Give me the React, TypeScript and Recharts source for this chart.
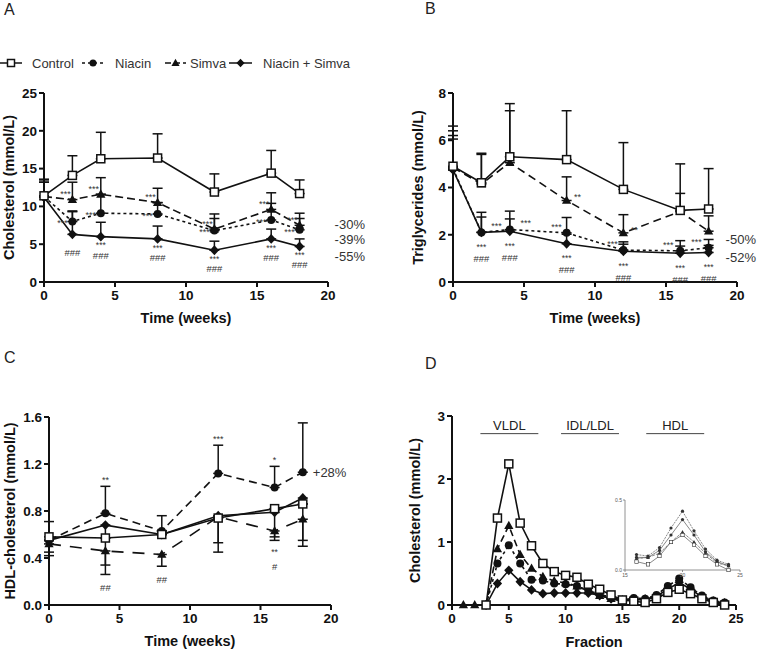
import React from 'react';
import { LineChart, Line, XAxis, YAxis, ErrorBar, LabelList, ReferenceLine } from 'recharts';

// ---------- A: total cholesterol (mmol/L) ----------
const weeks = [0, 2, 4, 8, 12, 16, 18];
const cholControl = [11.4, 14.1, 16.3, 16.4, 11.9, 14.4, 11.7];
const cholControlSem = [2.2, 2.6, 3.5, 3.2, 2.4, 3.0, 1.8];
const cholNiacin = [11.3, 8.0, 9.1, 9.0, 6.8, 8.2, 6.9];
const cholNiacinSem = [1.9, 1.4, 2.5, 1.5, 1.6, 2.2, 1.5];
const cholSimva = [11.3, 10.9, 11.6, 10.5, 7.0, 9.6, 7.5];
const cholSimvaSem = [2.2, 2.3, 2.2, 1.9, 2.0, 2.2, 1.6];
const cholCombo = [11.2, 6.3, 6.0, 5.7, 4.2, 5.7, 4.7];
const cholComboSem = [2.0, 3.0, 1.9, 1.7, 1.2, 1.3, 1.0];
const cholSimvaSig = ['', '***', '***', '***', '***', '***', '***'];
const cholNiacinSig = ['', '***', '***', '***', '***', '***', '***'];
const cholComboSig = ['', '', '***', '***', '***', '***', '***'];
const cholComboHash = ['', '###', '###', '###', '###', '###', '###'];
const cholPct = { simva: '-30%', niacin: '-39%', combo: '-55%' };

// ---------- B: triglycerides (mmol/L) ----------
const tgControl = [4.9, 4.2, 5.3, 5.18, 3.92, 3.03, 3.09];
const tgControlSem = [1.5, 1.25, 2.25, 2.07, 1.98, 1.97, 1.71];
const tgNiacin = [4.8, 2.1, 2.22, 2.08, 1.35, 1.32, 1.45];
const tgNiacinSem = [1.4, 0.85, 0.45, 0.65, 0.35, 0.43, 0.35];
const tgSimva = [4.85, 4.15, 5.05, 3.45, 2.08, 2.98, 2.15];
const tgSimvaSem = [1.75, 1.25, 2.2, 1.0, 0.77, 0.77, 0.65];
const tgCombo = [4.75, 2.1, 2.15, 1.62, 1.3, 1.22, 1.25];
const tgComboSem = [1.3, 0.65, 0.85, 0.4, 0.3, 0.3, 0.3];
const tgSimvaSig = ['', '', '', '**', '**', '', ''];
const tgNiacinSig = ['', '***', '***', '***', '***', '***', '***'];
const tgComboSig = ['', '***', '***', '***', '***', '***', '***'];
const tgComboHash = ['', '###', '###', '###', '###', '###', '###'];
const tgPct = { niacin: '-50%', combo: '-52%' };

// ---------- C: HDL-cholesterol (mmol/L) ----------
const hdlWeeks = [0, 4, 8, 12, 16, 18];
const hdlControl = [0.58, 0.57, 0.6, 0.74, 0.82, 0.86];
const hdlControlSem = [0.13, 0, 0.16, 0, 0, 0];
const hdlNiacin = [0.55, 0.78, 0.63, 1.12, 1.0, 1.13];
const hdlNiacinSem = [0, 0.23, 0, 0.24, 0.18, 0.42];
const hdlSimva = [0.52, 0.46, 0.43, 0.75, 0.63, 0.73];
const hdlSimvaSem = [0.1, 0.2, 0.1, 0.3, 0.08, 0.23];
const hdlCombo = [0.55, 0.68, 0.6, 0.76, 0.79, 0.91];
const hdlComboSem = [0.1, 0.34, 0, 0.23, 0.21, 0.36];
const hdlNiacinSig = ['', '**', '', '***', '*', ''];
const hdlSimvaSig = ['', '', '', '', '**', ''];
const hdlSimvaHash = ['', '##', '##', '', '#', ''];
const hdlPct = '+28%';

// ---------- D: FPLC cholesterol profile ----------
const fractions = [1, 2, 3, 4, 5, 6, 7, 8, 9, 10, 11, 12, 13, 14, 15, 16, 17, 18, 19, 20, 21, 22, 23, 24];
const fpControl = [null, null, 0, 1.38, 2.24, 1.3, 0.94, 0.66, 0.53, 0.47, 0.44, 0.33, 0.25, 0.16, 0.08, 0.06, 0.04, 0.1, 0.2, 0.25, 0.18, 0.1, 0.04, 0];
const fpNiacin = [null, null, 0, 0.66, 0.95, 0.66, 0.4, 0.39, 0.34, 0.33, 0.3, 0.23, 0.17, 0.12, 0.08, 0.11, 0.1, 0.16, 0.3, 0.42, 0.28, 0.15, 0.07, 0.04];
const fpSimva = [0, 0, 0, 0.89, 1.26, 0.8, 0.58, 0.45, 0.38, 0.35, 0.3, 0.22, 0.15, 0.1, 0.08, 0.08, 0.09, 0.12, 0.2, 0.27, 0.2, 0.12, 0.05, 0.03];
const fpCombo = [null, null, 0, 0.34, 0.55, 0.37, 0.24, 0.18, 0.19, 0.19, 0.19, 0.19, 0.15, 0.1, 0.06, 0.09, 0.09, 0.14, 0.25, 0.36, 0.25, 0.13, 0.06, 0.03];
const fpBands = [
  { name: 'VLDL', from: 2.5, to: 7.6 },
  { name: 'IDL/LDL', from: 9.6, to: 14.7 },
  { name: 'HDL', from: 17.1, to: 22.2 },
];
const fpBandLevel = 2.72;

const up = (e: number) => [0, e];
const down = (e: number) => [e, 0];
const last = weeks.length - 1;

const tableA = weeks.map((w, i) => ({
  week: w,
  control: cholControl[i], controlErr: up(cholControlSem[i]),
  niacin: cholNiacin[i], niacinErr: up(cholNiacinSem[i]),
  simva: cholSimva[i], simvaErr: up(cholSimvaSem[i]),
  combo: cholCombo[i], comboErr: up(cholComboSem[i]),
  simvaSig: cholSimvaSig[i], niacinSig: cholNiacinSig[i],
  comboSig: cholComboSig[i], comboHash: cholComboHash[i],
  simvaPct: i === last ? cholPct.simva : '',
  niacinPct: i === last ? cholPct.niacin : '',
  comboPct: i === last ? cholPct.combo : '',
}));

const tableB = weeks.map((w, i) => ({
  week: w,
  control: tgControl[i], controlErr: up(tgControlSem[i]),
  niacin: tgNiacin[i], niacinErr: up(tgNiacinSem[i]),
  simva: tgSimva[i], simvaErr: up(tgSimvaSem[i]),
  combo: tgCombo[i], comboErr: up(tgComboSem[i]),
  simvaSig: tgSimvaSig[i], niacinSig: tgNiacinSig[i],
  comboSig: tgComboSig[i], comboHash: tgComboHash[i],
  niacinPct: i === last ? tgPct.niacin : '',
  comboPct: i === last ? tgPct.combo : '',
}));

const tableC = hdlWeeks.map((w, i) => ({
  week: w,
  control: hdlControl[i], controlErr: up(hdlControlSem[i]),
  niacin: hdlNiacin[i], niacinErr: up(hdlNiacinSem[i]),
  simva: hdlSimva[i], simvaErr: down(hdlSimvaSem[i]),
  combo: hdlCombo[i], comboErr: down(hdlComboSem[i]),
  niacinTop: hdlNiacin[i] + hdlNiacinSem[i],
  simvaBottom: hdlSimva[i] - hdlSimvaSem[i],
  niacinSig: hdlNiacinSig[i],
  simvaSig: hdlSimvaSig[i],
  simvaHash: hdlSimvaHash[i],
  niacinPct: i === hdlWeeks.length - 1 ? hdlPct : '',
}));

const tableD = fractions.map((f, i) => ({
  fraction: f,
  control: fpControl[i], niacin: fpNiacin[i], simva: fpSimva[i], combo: fpCombo[i],
}));
const tableInset = tableD.filter((r) => r.fraction >= 16);

// ---------- drawing helpers ----------
const FONT = '"Liberation Sans", Arial, Helvetica, sans-serif';
const INK = '#111';
type Kind = 'square' | 'circle' | 'triangle' | 'diamond';

function drawMarker(kind: Kind, cx: number, cy: number, s: number, sw: number, key: string, color = INK) {
  const h = s / 2;
  if (kind === 'square')
    return <rect key={key} x={cx - h} y={cy - h} width={s} height={s} fill="#fff" stroke={color} strokeWidth={sw} />;
  if (kind === 'circle') return <circle key={key} cx={cx} cy={cy} r={h} fill={color} />;
  if (kind === 'triangle')
    return (
      <polygon key={key} fill={color}
        points={`${cx},${cy - s * 0.62} ${cx - s * 0.58},${cy + s * 0.42} ${cx + s * 0.58},${cy + s * 0.42}`} />
    );
  return (
    <polygon key={key} fill={color}
      points={`${cx},${cy - s * 0.62} ${cx + s * 0.58},${cy} ${cx},${cy + s * 0.62} ${cx - s * 0.58},${cy}`} />
  );
}

const dotOf = (kind: Kind, s: number, sw = 1.5, color = INK) => (p: any) => {
  const k = `${kind}-${p.index}`;
  if (p.cx == null || p.cy == null || p.value == null || Number.isNaN(p.cy)) return <g key={k} />;
  return drawMarker(kind, p.cx, p.cy, s, sw, k, color);
};

const note = (dx: number | number[], dy: number | number[], size = 9, anchor: 'middle' | 'start' = 'middle') => (p: any) => {
  const v = p.value;
  if (v == null || v === '') return null;
  const i = p.index ?? 0;
  const vb = p.viewBox || {};
  const x0 = vb.x ?? p.x;
  const y0 = vb.y ?? p.y;
  const ddx = Array.isArray(dx) ? dx[i] : dx;
  const ddy = Array.isArray(dy) ? dy[i] : dy;
  const lift = String(v).startsWith('*') ? size * 0.2 : 0;
  return (
    <text key={`n-${i}-${v}`} x={x0 + ddx} y={y0 + ddy + lift} textAnchor={anchor} dominantBaseline="central"
      fontSize={size} fill="#333" fontFamily={FONT}>
      {v}
    </text>
  );
};

const yTitle = (text: string, cx: number) => (p: any) => {
  const vb = p.viewBox;
  const x = vb.x + cx;
  const y = vb.y + vb.height / 2;
  return (
    <text x={x} y={y} transform={`rotate(-90 ${x} ${y})`} textAnchor="middle" dominantBaseline="central"
      fontSize={14.5} fontWeight="bold" fill={INK} fontFamily={FONT}>
      {text}
    </text>
  );
};

const xTitle = (text: string, dy: number) => (p: any) => {
  const vb = p.viewBox;
  return (
    <text x={vb.x + vb.width / 2} y={vb.y + dy} textAnchor="middle" dominantBaseline="central"
      fontSize={14.5} fontWeight="bold" fill={INK} fontFamily={FONT}>
      {text}
    </text>
  );
};

const boldTick = (side: 'x' | 'y', fmt: (v: number) => string = (v) => String(v)) => (p: any) => (
  <text x={p.x} y={p.y} dy={side === 'x' ? '0.75em' : '0.36em'} textAnchor={side === 'x' ? 'middle' : 'end'}
    fontSize={13.5} fontWeight={700} fill={INK} fontFamily={FONT}>
    {fmt(p.payload.value)}
  </text>
);

const axisLines = {
  axisLine: { stroke: INK, strokeWidth: 2 },
  tickLine: { stroke: INK, strokeWidth: 2 },
  tickSize: 5,
};

const errBar = (w = 5) => ({ width: w, stroke: INK, strokeWidth: 1.5, direction: 'y' as const });

const Letter = ({ ch, left, top }: { ch: string; left: number; top: number }) => (
  <div style={{ position: 'absolute', left, top, fontSize: 16, lineHeight: '16px', fontFamily: FONT, color: '#222' }}>{ch}</div>
);

const legendItems = [
  { label: 'Control', kind: 'square' as Kind, dash: undefined, x0: 0, x1: 22, tx: 32 },
  { label: 'Niacin', kind: 'circle' as Kind, dash: '3 3', x0: 82, x1: 104, tx: 115 },
  { label: 'Simva', kind: 'triangle' as Kind, dash: '6 3', x0: 165, x1: 186, tx: 190 },
  { label: 'Niacin + Simva', kind: 'diamond' as Kind, dash: undefined, x0: 229, x1: 252, tx: 263 },
];

export default function App() {
  return (
    <div style={{ position: 'absolute', left: 0, top: 0, width: 757, height: 649, background: '#fff', fontFamily: FONT }}>
      <Letter ch="A" left={4} top={2} />
      <Letter ch="B" left={425} top={1} />
      <Letter ch="C" left={4} top={350} />
      <Letter ch="D" left={425} top={356} />

      <svg style={{ position: 'absolute', left: 0, top: 50 }} width={380} height={26}>
        {legendItems.map((it) => (
          <g key={it.label}>
            <line x1={it.x0} x2={it.x1} y1={13} y2={13} stroke={INK} strokeWidth={1.5} strokeDasharray={it.dash} />
            {drawMarker(it.kind, (it.x0 + it.x1) / 2, 13, 7, 1.5, `lg-${it.label}`)}
            <text x={it.tx} y={13} dominantBaseline="central" fontSize={13} fill="#333" fontFamily={FONT}>{it.label}</text>
          </g>
        ))}
      </svg>

      {/* A */}
      <div style={{ position: 'absolute', left: 0, top: 0 }}>
        <LineChart width={380} height={330} data={tableA} margin={{ top: 93, right: 52, left: 0, bottom: 18 }}>
          <XAxis dataKey="week" type="number" domain={[0, 20]} ticks={[0, 5, 10, 15, 20]} height={30} tickMargin={3}
            {...axisLines} tick={boldTick('x')} label={{ content: xTitle('Time (weeks)', 36) }} />
          <YAxis type="number" domain={[0, 25]} ticks={[0, 5, 10, 15, 20, 25]} width={44} {...axisLines}
            tick={boldTick('y')} label={{ content: yTitle('Cholesterol (mmol/L)', 8.5) }} />
          <Line dataKey="combo" stroke={INK} strokeWidth={1.6} dot={dotOf('diamond', 8)} activeDot={false} isAnimationActive={false}>
            <ErrorBar dataKey="comboErr" {...errBar()} />
            <LabelList dataKey="comboSig" content={note(0, 7, 8.5)} />
            <LabelList dataKey="comboHash" content={note(0, 18.5, 9.5)} />
            <LabelList dataKey="comboPct" content={note(35, 10, 13, 'start')} />
          </Line>
          <Line dataKey="niacin" stroke={INK} strokeWidth={1.6} strokeDasharray="3 3" dot={dotOf('circle', 8)} activeDot={false} isAnimationActive={false}>
            <ErrorBar dataKey="niacinErr" {...errBar()} />
            <LabelList dataKey="niacinSig" content={note(-10, 0)} />
            <LabelList dataKey="niacinPct" content={note(35, 10, 13, 'start')} />
          </Line>
          <Line dataKey="simva" stroke={INK} strokeWidth={1.6} strokeDasharray="8 4" dot={dotOf('triangle', 8)} activeDot={false} isAnimationActive={false}>
            <ErrorBar dataKey="simvaErr" {...errBar()} />
            <LabelList dataKey="simvaSig" content={note(-7, -7)} />
            <LabelList dataKey="simvaPct" content={note(35, -1, 13, 'start')} />
          </Line>
          <Line dataKey="control" stroke={INK} strokeWidth={1.6} dot={dotOf('square', 8)} activeDot={false} isAnimationActive={false}>
            <ErrorBar dataKey="controlErr" {...errBar()} />
          </Line>
        </LineChart>
      </div>

      {/* B */}
      <div style={{ position: 'absolute', left: 378, top: 0 }}>
        <LineChart width={379} height={330} data={tableB} margin={{ top: 93, right: 20, left: 0, bottom: 18 }}>
          <XAxis dataKey="week" type="number" domain={[0, 20]} ticks={[0, 5, 10, 15, 20]} height={30} tickMargin={3}
            {...axisLines} tick={boldTick('x')} label={{ content: xTitle('Time (weeks)', 36) }} />
          <YAxis type="number" domain={[0, 8]} ticks={[0, 2, 4, 6, 8]} width={75} {...axisLines}
            tick={boldTick('y')} label={{ content: yTitle('Triglycerides (mmol/L)', 40) }} />
          <Line dataKey="combo" stroke={INK} strokeWidth={1.6} dot={dotOf('diamond', 8)} activeDot={false} isAnimationActive={false}>
            <ErrorBar dataKey="comboErr" {...errBar()} />
            <LabelList dataKey="comboSig" content={note(0, 13, 8.5)} />
            <LabelList dataKey="comboHash" content={note(0, 26, 9.5)} />
            <LabelList dataKey="comboPct" content={note(17, 5, 13, 'start')} />
          </Line>
          <Line dataKey="niacin" stroke={INK} strokeWidth={1.6} strokeDasharray="3 3" dot={dotOf('circle', 8)} activeDot={false} isAnimationActive={false}>
            <ErrorBar dataKey="niacinErr" {...errBar()} />
            <LabelList dataKey="niacinSig" content={note([0, 15, 16, -10, -11, -12, -12], -8)} />
            <LabelList dataKey="niacinPct" content={note(17, -8, 13, 'start')} />
          </Line>
          <Line dataKey="simva" stroke={INK} strokeWidth={1.6} strokeDasharray="8 5" dot={dotOf('triangle', 8)} activeDot={false} isAnimationActive={false}>
            <ErrorBar dataKey="simvaErr" {...errBar()} />
            <LabelList dataKey="simvaSig" content={note(11, -5)} />
          </Line>
          <Line dataKey="control" stroke={INK} strokeWidth={1.6} dot={dotOf('square', 8)} activeDot={false} isAnimationActive={false}>
            <ErrorBar dataKey="controlErr" {...errBar()} />
          </Line>
        </LineChart>
      </div>

      {/* C */}
      <div style={{ position: 'absolute', left: 0, top: 330 }}>
        <LineChart width={380} height={319} data={tableC} margin={{ top: 87, right: 49, left: 0, bottom: 14 }}>
          <XAxis dataKey="week" type="number" domain={[0, 20]} ticks={[0, 5, 10, 15, 20]} height={30} tickMargin={3}
            {...axisLines} tick={boldTick('x')} label={{ content: xTitle('Time (weeks)', 36) }} />
          <YAxis type="number" domain={[0, 1.6]} ticks={[0, 0.4, 0.8, 1.2, 1.6]} width={49} {...axisLines}
            tick={boldTick('y', (v) => v.toFixed(1))} label={{ content: yTitle('HDL-cholesterol (mmol/L)', 10) }} />
          <Line dataKey="simva" stroke={INK} strokeWidth={1.6} strokeDasharray="12 9" dot={dotOf('triangle', 8)} activeDot={false} isAnimationActive={false}>
            <ErrorBar dataKey="simvaErr" {...errBar()} />
          </Line>
          <Line dataKey="combo" stroke={INK} strokeWidth={1.6} dot={dotOf('diamond', 8)} activeDot={false} isAnimationActive={false}>
            <ErrorBar dataKey="comboErr" {...errBar()} />
          </Line>
          <Line dataKey="niacin" stroke={INK} strokeWidth={1.6} strokeDasharray="8 5" dot={dotOf('circle', 8)} activeDot={false} isAnimationActive={false}>
            <ErrorBar dataKey="niacinErr" {...errBar()} />
            <LabelList dataKey="niacinPct" content={note(10, 0, 13, 'start')} />
          </Line>
          <Line dataKey="control" stroke={INK} strokeWidth={1.6} dot={dotOf('square', 8)} activeDot={false} isAnimationActive={false}>
            <ErrorBar dataKey="controlErr" {...errBar()} />
          </Line>
          <Line dataKey="niacinTop" stroke="none" dot={false} activeDot={false} isAnimationActive={false}>
            <LabelList dataKey="niacinSig" content={note(0, -8)} />
          </Line>
          <Line dataKey="simvaBottom" stroke="none" dot={false} activeDot={false} isAnimationActive={false}>
            <LabelList dataKey="simvaSig" content={note(0, 10, 8.5)} />
            <LabelList dataKey="simvaHash" content={note(0, [13, 13, 13, 13, 26, 13], 9.5)} />
          </Line>
        </LineChart>
      </div>

      {/* D */}
      <div style={{ position: 'absolute', left: 378, top: 330 }}>
        <LineChart width={379} height={319} data={tableD} margin={{ top: 86, right: 21, left: 0, bottom: 14 }}>
          <XAxis dataKey="fraction" type="number" domain={[0, 25]} ticks={[0, 5, 10, 15, 20, 25]} height={30} tickMargin={3}
            {...axisLines} tick={boldTick('x')} label={{ content: xTitle('Fraction', 37) }} />
          <YAxis type="number" domain={[0, 3]} ticks={[0, 1, 2, 3]} width={74} {...axisLines}
            tick={boldTick('y')} label={{ content: yTitle('Cholesterol (mmol/L)', 37) }} />
          {fpBands.map((b) => (
            <ReferenceLine key={b.name} segment={[{ x: b.from, y: fpBandLevel }, { x: b.to, y: fpBandLevel }]}
              stroke="#444" strokeWidth={1}
              label={{ value: b.name, position: 'top', offset: 4, fontSize: 13, fill: '#222', fontFamily: FONT }} />
          ))}
          <Line dataKey="combo" stroke={INK} strokeWidth={1.6} dot={dotOf('diamond', 8)} activeDot={false} isAnimationActive={false} />
          <Line dataKey="niacin" stroke={INK} strokeWidth={1.6} strokeDasharray="3 3" dot={dotOf('circle', 8)} activeDot={false} isAnimationActive={false} />
          <Line dataKey="simva" stroke={INK} strokeWidth={1.6} strokeDasharray="7 4" dot={dotOf('triangle', 8)} activeDot={false} isAnimationActive={false} />
          <Line dataKey="control" stroke={INK} strokeWidth={1.6} dot={dotOf('square', 8)} activeDot={false} isAnimationActive={false} />
        </LineChart>
      </div>

      {/* D inset: HDL fractions */}
      <div style={{ position: 'absolute', left: 600, top: 480 }}>
        <LineChart width={150} height={110} data={tableInset} margin={{ top: 20, right: 10, left: 0, bottom: 8 }}>
          <XAxis dataKey="fraction" type="number" domain={[15, 25]} ticks={[15, 20, 25]} height={12} tickSize={2} tickMargin={1}
            axisLine={{ stroke: '#777', strokeWidth: 0.8 }} tickLine={{ stroke: '#777', strokeWidth: 0.8 }}
            tick={{ fontSize: 5, fill: '#555', fontFamily: FONT }} />
          <YAxis type="number" domain={[0, 0.5]} ticks={[0, 0.5]} width={25} tickSize={2} tickMargin={1}
            tickFormatter={(v: number) => v.toFixed(1)}
            axisLine={{ stroke: '#777', strokeWidth: 0.8 }} tickLine={{ stroke: '#777', strokeWidth: 0.8 }}
            tick={{ fontSize: 5, fill: '#555', fontFamily: FONT }} />
          <Line dataKey="combo" stroke="#555" strokeWidth={0.7} dot={dotOf('circle', 3.2, 0.6, '#333')} activeDot={false} isAnimationActive={false} />
          <Line dataKey="niacin" stroke="#555" strokeWidth={0.7} strokeDasharray="2 1" dot={dotOf('circle', 3.2, 0.6, '#333')} activeDot={false} isAnimationActive={false} />
          <Line dataKey="simva" stroke="#555" strokeWidth={0.7} strokeDasharray="3 1" dot={dotOf('triangle', 3.4, 0.6, '#333')} activeDot={false} isAnimationActive={false} />
          <Line dataKey="control" stroke="#555" strokeWidth={0.7} dot={dotOf('square', 3.4, 0.6, '#333')} activeDot={false} isAnimationActive={false} />
        </LineChart>
      </div>
    </div>
  );
}
